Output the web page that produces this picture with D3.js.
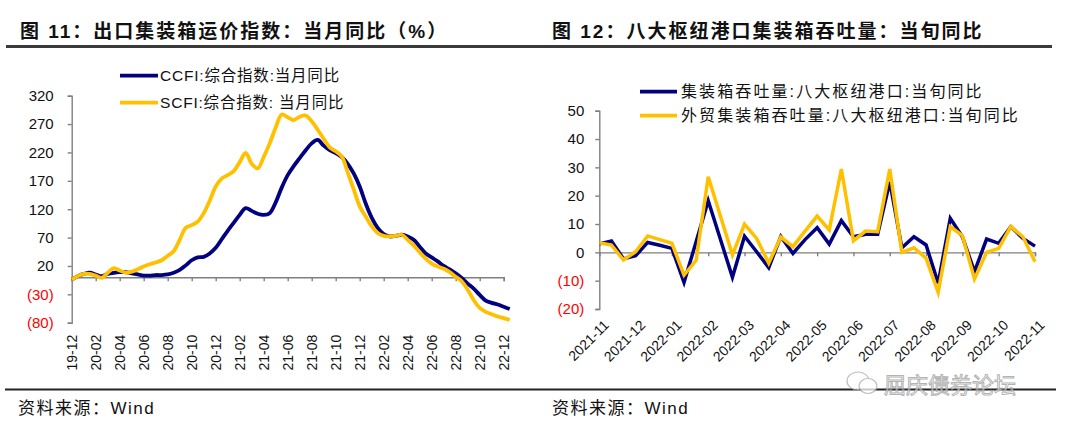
<!DOCTYPE html>
<html><head><meta charset="utf-8">
<script src="https://cdn.jsdelivr.net/npm/d3@7"></script>
<style>
body{margin:0;background:#fff;}
svg{display:block;}
text{font-family:"Liberation Sans",Arial,sans-serif;}
.cjk{font-family:"Liberation Sans","Noto Sans CJK SC",sans-serif;}
</style></head>
<body><svg id="c" width="1080" height="432"></svg>
<script>
// ---------- Left chart data (semi-monthly, from 2019-12) ----------
const leftTickLabels = ["19-12","20-02","20-04","20-06","20-08","20-10","20-12","21-02","21-04","21-06","21-08","21-10","21-12","22-02","22-04","22-06","22-08","22-10","22-12"];
const leftYTicks = [-80,-30,20,70,120,170,220,270,320];
const ccfi = [-4,2,6,8,5,2,6,8,9,9,7,5,3,3,4,4,5,8,13,21,30,35,36,42,52,67,82,96,110,122,117,112,110,113,132,158,180,196,210,224,236,242,232,224,219,212,200,183,160,130,105,87,76,72,73,75,72,66,54,42,35,28,20,14,7,-1,-11,-20,-31,-41,-45,-48,-52,-56];
const scfi = [-4,2,6,6,3,-1,8,16,12,8,10,14,19,23,26,30,38,46,66,87,92,98,113,135,160,174,180,187,203,219,200,192,212,236,264,287,282,277,283,285,275,260,244,229,222,213,185,155,125,107,90,78,73,72,73,75,66,56,44,33,24,19,15,9,1,-7,-22,-40,-54,-61,-65,-69,-72,-75];
const leftSeriesNames = ["CCFI:综合指数:当月同比","SCFI:综合指数: 当月同比"];

// ---------- Right chart data (dekads, from 2021-11) ----------
const rightTickLabels = ["2021-11","2021-12","2022-01","2022-02","2022-03","2022-04","2022-05","2022-06","2022-07","2022-08","2022-09","2022-10","2022-11"];
const rightYTicks = [-20,-10,0,10,20,30,40,50];
const throughput = [3.0,4.0,-2.3,-1.2,3.5,2.5,1.4,-10.6,3.7,18.2,4.7,-8.8,5.7,0.2,-5.4,5.6,-0.4,4.5,8.7,2.9,11.2,5.5,6.4,6.4,24.9,1.6,5.5,2.6,-10.9,12.0,5.5,-6.8,4.7,3.2,9.1,4.9,2.2];
const foreignThroughput = [3.4,2.6,-2.7,0.2,5.8,4.5,3.2,-8.0,-2.8,26.7,12.9,-0.9,10.0,4.9,-3.8,5.4,2.0,7.5,12.8,7.9,29.4,4.1,7.5,7.3,29.4,0,1.6,-2.1,-14.1,9.1,5.9,-9.4,0,1.4,9.1,5.5,-3.3];
const rightSeriesNames = ["集装箱吞吐量:八大枢纽港口:当旬同比","外贸集装箱吞吐量:八大枢纽港口:当旬同比"];

const BLUE = "#000080", GOLD = "#FFC000", AXIS = "#808080", RED = "#FF0000";
const svg = d3.select("#c");
const fmt = v => v < 0 ? "(" + Math.abs(v) + ")" : String(v);

// ---------- Titles, rules, sources ----------
svg.append("text").attr("x",20).attr("y",38).attr("class","cjk")
  .style("font-size","19px").style("font-weight","bold").style("letter-spacing","2px").attr("fill","#111")
  .text("图 11：出口集装箱运价指数：当月同比（%）");
svg.append("text").attr("x",552).attr("y",38).attr("class","cjk")
  .style("font-size","19px").style("font-weight","bold").style("letter-spacing","2px").attr("fill","#111")
  .text("图 12：八大枢纽港口集装箱吞吐量：当旬同比");
svg.append("line").attr("x1",6).attr("x2",1052).attr("y1",46.5).attr("y2",46.5).attr("stroke","#3a3a3a").attr("stroke-width",2.8);
svg.append("line").attr("x1",5).attr("x2",1056).attr("y1",389.5).attr("y2",389.5).attr("stroke","#222").attr("stroke-width",2.2);
svg.append("text").attr("x",18).attr("y",414).attr("class","cjk").style("font-size","17px").style("letter-spacing","1.5px").attr("fill","#111").text("资料来源：Wind");
svg.append("text").attr("x",552).attr("y",414).attr("class","cjk").style("font-size","17px").style("letter-spacing","1.5px").attr("fill","#111").text("资料来源：Wind");

// ---------- Left chart ----------
{
  const x = d3.scaleLinear().domain([0,36]).range([71.7,503.7]);
  const y = d3.scaleLinear().domain([-80,320]).range([322.7,95.7]);
  const g = svg.append("g");
  const yAx = g.append("g").attr("transform",`translate(${x(0)},0)`)
    .call(d3.axisLeft(y).tickValues(leftYTicks).tickSize(4).tickPadding(14).tickFormat(fmt));
  yAx.select(".domain").attr("stroke",AXIS).attr("stroke-width",1.4);
  yAx.selectAll(".tick line").attr("stroke",AXIS).attr("stroke-width",1.4);
  yAx.selectAll(".tick text").style("font-size","15px").attr("fill",d=>d<0?RED:"#111");
  const xAx = g.append("g").attr("transform",`translate(0,${y(0)})`)
    .call(d3.axisBottom(x).tickValues(d3.range(0,37,2)).tickSize(4).tickFormat((d,i)=>leftTickLabels[i]));
  xAx.select(".domain").attr("stroke",AXIS).attr("stroke-width",1.4);
  xAx.selectAll(".tick line").attr("stroke",AXIS).attr("stroke-width",1.4);
  xAx.selectAll(".tick text").style("font-size","14px").attr("fill","#111")
    .attr("text-anchor","end").attr("dy",null).attr("y",0)
    .attr("transform",`translate(0,${322.7+10-y(0)}) rotate(-90) translate(-2,5)`);
  const line = d3.line().x((d,i)=>x(i*0.5)).y(d=>y(d)).curve(d3.curveCatmullRom.alpha(0.5));
  g.append("path").datum(ccfi).attr("d",line).attr("fill","none").attr("stroke",BLUE).attr("stroke-width",3.8);
  g.append("path").datum(scfi).attr("d",line).attr("fill","none").attr("stroke",GOLD).attr("stroke-width",3.8);
  const lg = [[BLUE,75.7],[GOLD,102.7]];
  lg.forEach((l,i)=>{
    g.append("line").attr("x1",120).attr("x2",158).attr("y1",l[1]).attr("y2",l[1]).attr("stroke",l[0]).attr("stroke-width",3.8);
    g.append("text").attr("x",160).attr("y",l[1]+5.5).attr("class","cjk").style("font-size","15.5px").style("letter-spacing","0.8px").attr("fill","#111").text(leftSeriesNames[i]);
  });
}

// ---------- Right chart ----------
{
  const x = d3.scaleLinear().domain([0,36]).range([599.3,1035]);
  const y = d3.scaleLinear().domain([-20,50]).range([309,110.7]);
  const g = svg.append("g");
  const yAx = g.append("g").attr("transform",`translate(${x(0)},0)`)
    .call(d3.axisLeft(y).tickValues(rightYTicks).tickSize(4).tickPadding(11).tickFormat(fmt));
  yAx.select(".domain").attr("stroke",AXIS).attr("stroke-width",1.4);
  yAx.selectAll(".tick line").attr("stroke",AXIS).attr("stroke-width",1.4);
  yAx.selectAll(".tick text").style("font-size","15px").attr("fill",d=>d<0?RED:"#111");
  const xAx = g.append("g").attr("transform",`translate(0,${y(0)})`)
    .call(d3.axisBottom(x).tickValues(d3.range(0,37,3)).tickSize(4).tickFormat((d,i)=>rightTickLabels[i]));
  xAx.select(".domain").attr("stroke",AXIS).attr("stroke-width",1.4);
  xAx.selectAll(".tick line").attr("stroke",AXIS).attr("stroke-width",1.4);
  xAx.selectAll(".tick text").style("font-size","14px").attr("fill","#111")
    .attr("text-anchor","end").attr("dy",null).attr("y",0)
    .attr("transform",`translate(3,${319-y(0)}) rotate(-45) translate(0,10)`);
  const line = d3.line().x((d,i)=>x(i)).y(d=>y(d));
  g.append("path").datum(throughput).attr("d",line).attr("fill","none").attr("stroke",BLUE).attr("stroke-width",3.5);
  g.append("path").datum(foreignThroughput).attr("d",line).attr("fill","none").attr("stroke",GOLD).attr("stroke-width",3.5);
  const lg = [[BLUE,91.7],[GOLD,115.7]];
  lg.forEach((l,i)=>{
    g.append("line").attr("x1",640).attr("x2",677).attr("y1",l[1]).attr("y2",l[1]).attr("stroke",l[0]).attr("stroke-width",3.8);
    g.append("text").attr("x",681).attr("y",l[1]+5.5).attr("class","cjk").style("font-size","16px").style("letter-spacing","2.1px").attr("fill","#111").text(rightSeriesNames[i]);
  });
}

// ---------- Watermark ----------
{
  const w = svg.append("g").attr("opacity",0.75);
  w.append("ellipse").attr("cx",858).attr("cy",381).attr("rx",11).attr("ry",9).attr("fill","#fff").attr("stroke","#aaa").attr("stroke-width",1.2);
  w.append("ellipse").attr("cx",868).attr("cy",386).attr("rx",9).attr("ry",7.5).attr("fill","#fff").attr("stroke","#aaa").attr("stroke-width",1.2);
  w.append("text").attr("x",884).attr("y",393).attr("class","cjk").style("font-size","22px")
    .attr("fill","#fff").attr("stroke","#9a9a9a").attr("stroke-width",1).text("屈庆债券论坛");
}
</script></body></html>
